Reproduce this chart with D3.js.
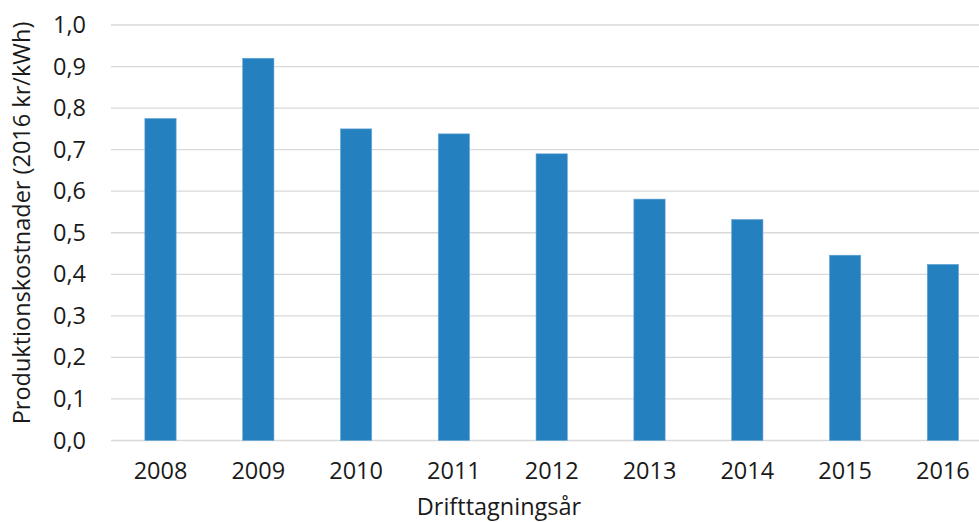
<!DOCTYPE html>
<html><head><meta charset="utf-8">
<script src="https://cdn.jsdelivr.net/npm/d3@7"></script>
<style>html,body{margin:0;padding:0;background:#fff;overflow:hidden}</style>
</head><body>
<svg id="c" width="979" height="522"></svg>
<script>
const years = ["2008","2009","2010","2011","2012","2013","2014","2015","2016"];
const costs = [0.775, 0.92, 0.75, 0.738, 0.69, 0.581, 0.532, 0.446, 0.424];
const yTicks = [0,0.1,0.2,0.3,0.4,0.5,0.6,0.7,0.8,0.9,1.0];
const xTitle = "Drifttagningsår";
const yTitle = "Produktionskostnader  (2016 kr/kWh)";

const svg = d3.select("#c");
const font = "'Open Sans', sans-serif";
const fs = 23.5;
const x = d3.scaleBand().domain(years).range([111.6, 991.8]).paddingInner(0.68).paddingOuter(0.34);
const y = d3.scaleLinear().domain([0,1]).range([440.5, 25]);

// gridlines
svg.append("g").selectAll("line").data(yTicks).join("line")
  .attr("x1", 111).attr("x2", 979)
  .attr("y1", d => y(d)).attr("y2", d => y(d))
  .attr("stroke", "#d9d9d9").attr("stroke-width", 1.3);

// y axis labels
const yAxis = d3.axisLeft(y).tickValues(yTicks).tickSize(0).tickPadding(0)
  .tickFormat(d => d3.format(".1f")(d).replace(".", ","));
const gy = svg.append("g").attr("transform", "translate(86,0)").call(yAxis);
gy.select(".domain").remove();
gy.selectAll("text").attr("font-family", font).attr("font-size", fs).attr("fill", "#1a1a1a");

// bars
svg.append("g").selectAll("rect").data(costs).join("rect")
  .attr("x", (d,i) => x(years[i]))
  .attr("width", x.bandwidth())
  .attr("y", d => y(d))
  .attr("height", d => y(0) - y(d))
  .attr("fill", "#2580c0")
  .attr("stroke", "#6aa8d8").attr("stroke-width", 0.6);

// x axis labels
const xAxis = d3.axisBottom(x).tickSize(0).tickPadding(0);
const gx = svg.append("g").attr("transform", "translate(0,462)").call(xAxis);
gx.select(".domain").remove();
gx.selectAll("text").attr("font-family", font).attr("font-size", fs).attr("fill", "#1a1a1a");

// titles
svg.append("text").attr("x", 499).attr("y", 515).attr("text-anchor", "middle")
  .attr("font-family", font).attr("font-size", fs).attr("fill", "#1a1a1a").text(xTitle);
svg.append("text").attr("transform", "translate(30,223) rotate(-90)").attr("text-anchor", "middle")
  .attr("font-family", font).attr("font-size", fs).attr("fill", "#1a1a1a").text(yTitle);
</script>
</body></html>
